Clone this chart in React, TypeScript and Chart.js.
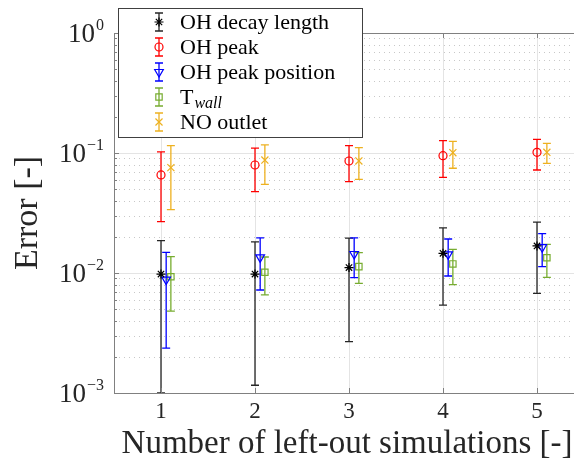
import React, { useEffect, useRef } from 'react';
import { Chart, registerables } from 'chart.js';
import { drawPoint } from 'chart.js/helpers';

Chart.register(...registerables);

// ---- data ----
const simulations = [1, 2, 3, 4, 5];
const xTickLabels = ['1', '2', '3', '4', '5'];
const yMajorTicks = [1e-3, 1e-2, 1e-1, 1];
const yTickExponents = ['\u22123', '\u22122', '\u22121', '0'];

const decayMean = [0.0098, 0.0098, 0.0111, 0.0146, 0.0168];
const decayLow = [0.001, 0.00116, 0.00268, 0.0054, 0.00677];
const decayHigh = [0.0186, 0.0182, 0.0195, 0.0238, 0.0265];

const peakMean = [0.0656, 0.0794, 0.0858, 0.095, 0.1014];
const peakLow = [0.0268, 0.0476, 0.0577, 0.0627, 0.0722];
const peakHigh = [0.102, 0.11, 0.115, 0.1266, 0.13];

const peakPosMean = [0.0088, 0.0135, 0.0144, 0.0143, 0.0164];
const peakPosLow = [0.00237, 0.00722, 0.00914, 0.00944, 0.01128];
const peakPosHigh = [0.01486, 0.0196, 0.0196, 0.0192, 0.02126];

const twallMean = [0.0093, 0.01014, 0.0113, 0.0119, 0.0134];
const twallLow = [0.00482, 0.00656, 0.0082, 0.00799, 0.0092];
const twallHigh = [0.01368, 0.0136, 0.01477, 0.01576, 0.01735];

const noMean = [0.0755, 0.0874, 0.0858, 0.1006, 0.1014];
const noLow = [0.0337, 0.0548, 0.0604, 0.0746, 0.082];
const noHigh = [0.115, 0.117, 0.1107, 0.125, 0.1205];

const seriesNames = ['OH decay length', 'OH peak', 'OH peak position', 'T', 'NO outlet'];

const FONT = '"Liberation Serif", "Times New Roman", serif';

type Series = {
  name: string; mean: number[]; low: number[]; high: number[];
  offset: number; color: string; barColor: string; style: string; radius: number; rotation: number; sub?: string;
};

const series: Series[] = [
  { name: seriesNames[0], mean: decayMean, low: decayLow, high: decayHigh, offset: 0, color: '#000000', barColor: '#262626', style: 'star', radius: 4.5, rotation: 0 },
  { name: seriesNames[1], mean: peakMean, low: peakLow, high: peakHigh, offset: 0, color: '#ff0000', barColor: '#ff0000', style: 'circle', radius: 4, rotation: 0 },
  { name: seriesNames[2], mean: peakPosMean, low: peakPosLow, high: peakPosHigh, offset: 0.055, color: '#0000ff', barColor: '#0000ff', style: 'triangle', radius: 5, rotation: 180 },
  { name: seriesNames[3], mean: twallMean, low: twallLow, high: twallHigh, offset: 0.105, color: '#77ac30', barColor: '#77ac30', style: 'rect', radius: 4.5, rotation: 0, sub: 'wall' },
  { name: seriesNames[4], mean: noMean, low: noLow, high: noHigh, offset: 0.105, color: '#edb120', barColor: '#edb120', style: 'crossRot', radius: 5, rotation: 0 },
];

const AXIS = '#808080';
const TEXT = '#262626';

const px = (v: number) => Math.round(v) + 0.5;

const framePlugin = {
  id: 'frame',
  beforeDraw(chart: any) {
    const ctx = chart.ctx;
    ctx.save();
    ctx.fillStyle = '#ffffff';
    ctx.fillRect(0, 0, chart.width, chart.height);
    ctx.restore();
  },
  beforeDatasetsDraw(chart: any) {
    const ctx = chart.ctx;
    const { left, right, top, bottom } = chart.chartArea;
    const xs = chart.scales.x;
    const ys = chart.scales.y;
    ctx.save();
    // minor y grid (dotted)
    ctx.strokeStyle = '#c8c8c8';
    ctx.lineWidth = 1;
    ctx.setLineDash([1, 4]);
    for (let d = 0; d < yMajorTicks.length - 1; d++) {
      for (let m = 2; m <= 9; m++) {
        const y = px(ys.getPixelForValue(yMajorTicks[d] * m));
        ctx.beginPath();
        ctx.moveTo(left, y);
        ctx.lineTo(right, y);
        ctx.stroke();
      }
    }
    ctx.setLineDash([]);
    ctx.strokeStyle = '#e4e4e4';
    for (let d = 1; d < yMajorTicks.length - 1; d++) {
      const y = px(ys.getPixelForValue(yMajorTicks[d]));
      ctx.beginPath();
      ctx.moveTo(left, y);
      ctx.lineTo(right, y);
      ctx.stroke();
    }
    for (const s of simulations) {
      const x = px(xs.getPixelForValue(s));
      ctx.beginPath();
      ctx.moveTo(x, top);
      ctx.lineTo(x, bottom);
      ctx.stroke();
    }
    // error bars
    ctx.beginPath();
    ctx.rect(left, top, right - left, bottom - top);
    ctx.clip();
    ctx.lineWidth = 1.3;
    chart.data.datasets.forEach((ds: any) => {
      ctx.strokeStyle = ds.barColor;
      ds.data.forEach((p: any, i: number) => {
        const x = xs.getPixelForValue(p.x);
        const yl = ys.getPixelForValue(ds.errLow[i]);
        const yh = ys.getPixelForValue(ds.errHigh[i]);
        ctx.beginPath();
        ctx.moveTo(x, yl);
        ctx.lineTo(x, yh);
        ctx.moveTo(x - 4, yl);
        ctx.lineTo(x + 4, yl);
        ctx.moveTo(x - 4, yh);
        ctx.lineTo(x + 4, yh);
        ctx.stroke();
      });
    });
    ctx.restore();
  },
  afterDraw(chart: any) {
    const ctx = chart.ctx;
    const { left, right, top, bottom } = chart.chartArea;
    const xs = chart.scales.x;
    const ys = chart.scales.y;
    ctx.save();
    // axes box
    ctx.strokeStyle = AXIS;
    ctx.lineWidth = 1;
    ctx.beginPath();
    ctx.moveTo(px(left), px(top));
    ctx.lineTo(px(left), px(bottom));
    ctx.lineTo(px(right), px(bottom));
    ctx.lineTo(px(right), px(top));
    ctx.lineTo(px(left), px(top));
    ctx.stroke();
    // y ticks
    for (let d = 0; d < yMajorTicks.length; d++) {
      const y = px(ys.getPixelForValue(yMajorTicks[d]));
      ctx.beginPath();
      ctx.moveTo(left, y);
      ctx.lineTo(left + 5, y);
      ctx.stroke();
      if (d < yMajorTicks.length - 1) {
        for (let m = 2; m <= 9; m++) {
          const ym = px(ys.getPixelForValue(yMajorTicks[d] * m));
          ctx.beginPath();
          ctx.moveTo(left, ym);
          ctx.lineTo(left + 3, ym);
          ctx.stroke();
        }
      }
    }
    // x ticks
    for (const s of simulations) {
      const x = px(xs.getPixelForValue(s));
      ctx.beginPath();
      ctx.moveTo(x, bottom);
      ctx.lineTo(x, bottom - 5);
      ctx.moveTo(x, top);
      ctx.lineTo(x, top + 5);
      ctx.stroke();
    }
    // y tick labels
    ctx.fillStyle = TEXT;
    for (let d = 0; d < yMajorTicks.length; d++) {
      const y = ys.getPixelForValue(yMajorTicks[d]);
      ctx.font = `16px ${FONT}`;
      const ew = ctx.measureText(yTickExponents[d]).width;
      const rightEdge = left - 10;
      ctx.textAlign = 'right';
      ctx.textBaseline = 'alphabetic';
      ctx.fillText(yTickExponents[d], rightEdge, y - 3);
      ctx.font = `27px ${FONT}`;
      ctx.fillText('10', rightEdge - ew - 1, y + 9);
    }
    // x tick labels
    ctx.font = `23px ${FONT}`;
    ctx.textAlign = 'center';
    ctx.textBaseline = 'alphabetic';
    simulations.forEach((s, i) => {
      ctx.fillText(xTickLabels[i], xs.getPixelForValue(s), 418);
    });
    // axis titles
    ctx.font = `33px ${FONT}`;
    ctx.fillText('Number of left-out simulations [-]', 347, 453);
    ctx.save();
    ctx.translate(37, (top + bottom) / 2);
    ctx.rotate(-Math.PI / 2);
    ctx.font = `34px ${FONT}`;
    ctx.fillText('Error [-]', 0, 0);
    ctx.restore();

    // legend
    const bx = 118, by = 8, bw = 244, bh = 129;
    ctx.fillStyle = '#ffffff';
    ctx.fillRect(bx, by, bw, bh);
    ctx.strokeStyle = '#404040';
    ctx.lineWidth = 1;
    ctx.strokeRect(bx + 0.5, by + 0.5, bw, bh);
    const rowY = [22, 47, 72, 97, 122];
    series.forEach((s, i) => {
      const y = rowY[i];
      const sx = 159;
      ctx.strokeStyle = s.barColor;
      ctx.lineWidth = 1.3;
      ctx.beginPath();
      ctx.moveTo(sx, y - 9);
      ctx.lineTo(sx, y + 9);
      ctx.moveTo(sx - 4, y - 9);
      ctx.lineTo(sx + 4, y - 9);
      ctx.moveTo(sx - 4, y + 9);
      ctx.lineTo(sx + 4, y + 9);
      ctx.stroke();
      ctx.strokeStyle = s.color;
      ctx.fillStyle = 'rgba(0,0,0,0)';
      ctx.lineWidth = 1.2;
      drawPoint(ctx, { pointStyle: s.style as any, rotation: s.rotation, radius: s.radius, borderWidth: 1.2 } as any, sx, y);
      ctx.fillStyle = '#000000';
      ctx.textAlign = 'left';
      ctx.textBaseline = 'alphabetic';
      ctx.font = `22px ${FONT}`;
      ctx.fillText(s.name, 180, y + 7);
      if (s.sub) {
        const w = ctx.measureText(s.name).width;
        ctx.font = `italic 16px ${FONT}`;
        ctx.fillText(s.sub, 180 + w + 1, y + 11);
      }
    });
    ctx.restore();
  },
};

export default function App() {
  const ref = useRef<HTMLCanvasElement | null>(null);
  useEffect(() => {
    if (!ref.current) return;
    const datasets = series.map((s) => ({
      label: s.name,
      data: simulations.map((x, i) => ({ x: x + s.offset, y: s.mean[i] })),
      errLow: s.low,
      errHigh: s.high,
      barColor: s.barColor,
      showLine: false,
      pointStyle: s.style,
      pointRotation: s.rotation,
      pointRadius: s.radius,
      pointBorderWidth: 1.2,
      pointBorderColor: s.color,
      pointBackgroundColor: 'rgba(0,0,0,0)',
      borderColor: s.color,
      backgroundColor: 'rgba(0,0,0,0)',
    }));
    const chart = new Chart(ref.current, {
      type: 'scatter',
      data: { datasets: datasets as any },
      options: {
        animation: false,
        responsive: false,
        maintainAspectRatio: false,
        devicePixelRatio: 1,
        events: [],
        layout: { padding: { left: 114, top: 33, right: 16, bottom: 76 } },
        plugins: { legend: { display: false }, tooltip: { enabled: false } },
        scales: {
          x: { type: 'linear', display: false, min: 0.5, max: 5.5 },
          y: { type: 'logarithmic', display: false, min: 1e-3, max: 1 },
        },
      },
      plugins: [framePlugin],
    });
    return () => chart.destroy();
  }, []);
  return (
    <div style={{ position: 'fixed', left: 0, top: 0, width: 574, height: 469, overflow: 'hidden', background: '#fff' }}>
      <canvas ref={ref} width={600} height={469} style={{ display: 'block', width: 600, height: 469 }} />
    </div>
  );
}
